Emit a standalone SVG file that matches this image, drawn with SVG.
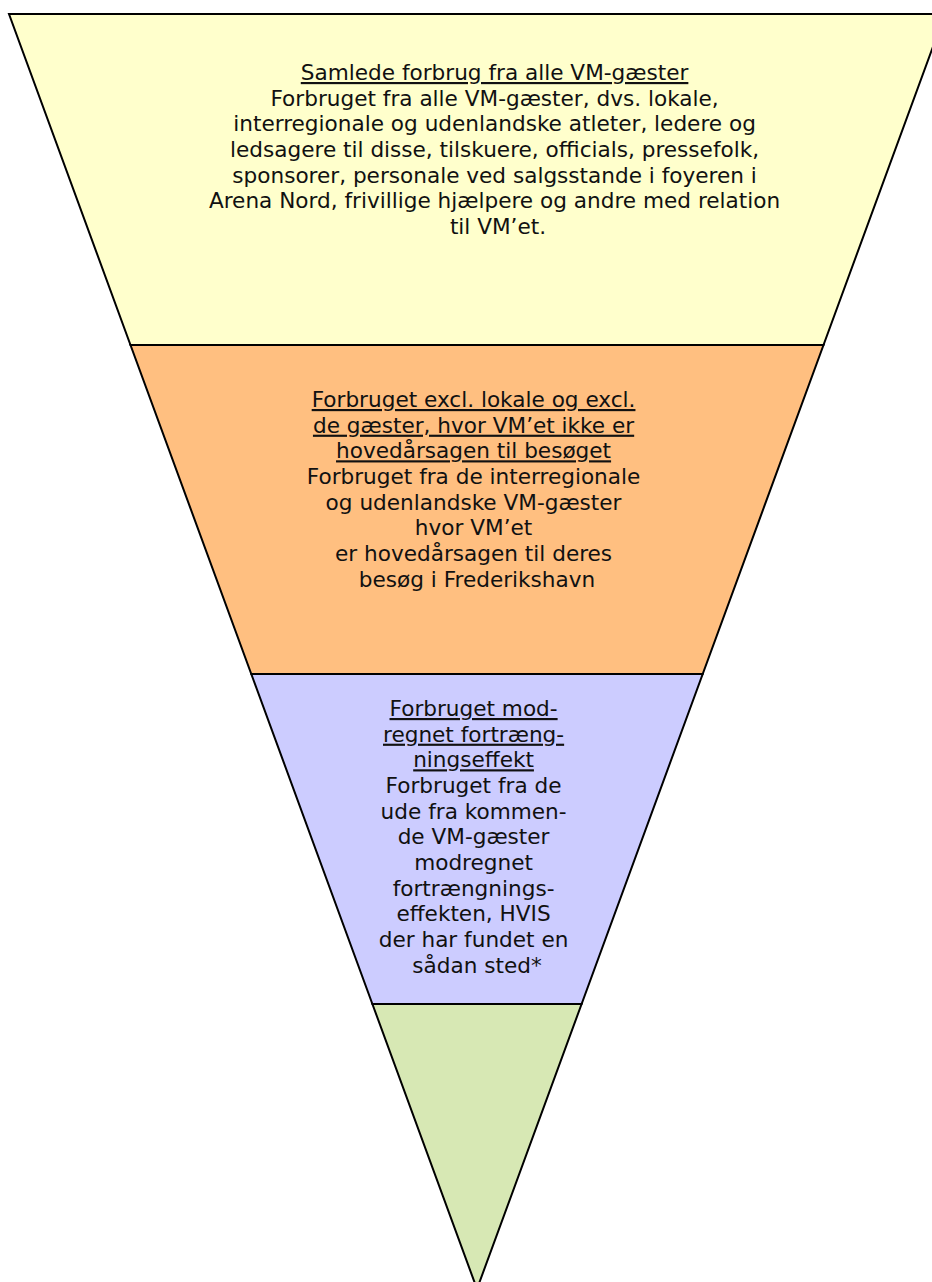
<svg xmlns="http://www.w3.org/2000/svg" width="932" height="1282" viewBox="0 0 932 1282">
<style>
.band{stroke:#000;stroke-width:2;stroke-linejoin:miter}
.t{font-family:"DejaVu Sans","Verdana",sans-serif;font-size:21.6px;fill:#111;text-anchor:middle}
.u{text-decoration:underline}
</style>
<rect width="932" height="1282" fill="#fff"/>
<g id="band1">
<polygon class="band" fill="#FFFFCC" points="9,14 945,14 823.5,345 130.5,345"/>
<text class="t">
<tspan class="u" x="498" y="80">Samlede forbrug fra alle VM-gæster</tspan>
<tspan x="498" y="105.7">Forbruget fra alle VM-gæster, dvs. lokale,</tspan>
<tspan x="498" y="131.3">interregionale og udenlandske atleter, ledere og</tspan>
<tspan x="498" y="157">ledsagere til disse, tilskuere, officials, pressefolk,</tspan>
<tspan x="498" y="182.7">sponsorer, personale ved salgsstande i foyeren i</tspan>
<tspan x="498" y="208.3">Arena Nord, frivillige hjælpere og andre med relation</tspan>
<tspan x="498" y="234">til VM’et.</tspan>
</text>
</g>
<g id="band2">
<polygon class="band" fill="#FFBF80" points="130.5,345 823.5,345 702.7,674 251.3,674"/>
<text class="t">
<tspan class="u" x="477" y="407">Forbruget excl. lokale og excl.</tspan>
<tspan class="u" x="477" y="432.7">de gæster, hvor VM’et ikke er</tspan>
<tspan class="u" x="477" y="458.3">hovedårsagen til besøget</tspan>
<tspan x="477" y="484">Forbruget fra de interregionale</tspan>
<tspan x="477" y="509.7">og udenlandske VM-gæster</tspan>
<tspan x="477" y="535.3">hvor VM’et</tspan>
<tspan x="477" y="561">er hovedårsagen til deres</tspan>
<tspan x="477" y="586.7">besøg i Frederikshavn</tspan>
</text>
</g>
<g id="band3">
<polygon class="band" fill="#CCCCFF" points="251.3,674 702.7,674 581.6,1004 372.4,1004"/>
<text class="t">
<tspan class="u" x="477" y="716">Forbruget mod-</tspan>
<tspan class="u" x="477" y="741.7">regnet fortræng-</tspan>
<tspan class="u" x="477" y="767.3">ningseffekt</tspan>
<tspan x="477" y="793">Forbruget fra de</tspan>
<tspan x="477" y="818.7">ude fra kommen-</tspan>
<tspan x="477" y="844.3">de VM-gæster</tspan>
<tspan x="477" y="870">modregnet</tspan>
<tspan x="477" y="895.7">fortrængnings-</tspan>
<tspan x="477" y="921.3">effekten, HVIS</tspan>
<tspan x="477" y="947">der har fundet en</tspan>
<tspan x="477" y="972.7">sådan sted*</tspan>
</text>
</g>
<g id="band4">
<polygon class="band" fill="#D7E8B4" points="372.4,1004 581.6,1004 477,1289"/>
</g>
<g id="connectors"></g>
</svg>
